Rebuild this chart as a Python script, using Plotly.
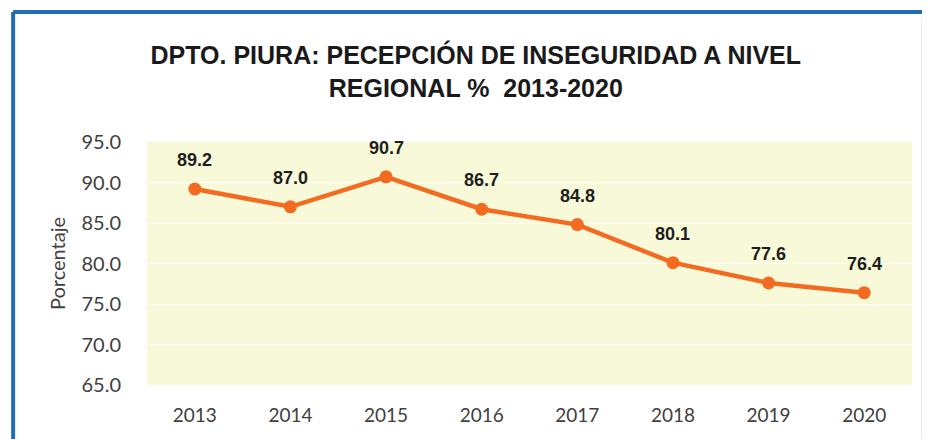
import plotly.graph_objects as go

# datos
years = [2013, 2014, 2015, 2016, 2017, 2018, 2019, 2020]
percepcion = [89.2, 87.0, 90.7, 86.7, 84.8, 80.1, 77.6, 76.4]
y_ticks = [65, 70, 75, 80, 85, 90, 95]

ORANGE = '#F26B21'
BLUE = '#1F6DB6'
NARROW = 'Liberation Sans Narrow, Liberation Sans, Arial'

fig = go.Figure()

fig.add_trace(go.Scatter(
    x=years,
    y=percepcion,
    mode='lines+markers',
    line=dict(color=ORANGE, width=4.5),
    marker=dict(color=ORANGE, size=13),
    showlegend=False,
    hoverinfo='x+y'
))

# etiquetas de datos
for yr, val in zip(years, percepcion):
    fig.add_annotation(
        x=yr, y=val,
        text='<b>%.1f</b>' % val,
        showarrow=False,
        yshift=29,
        font=dict(family=NARROW, size=18, color='#1e1e1e')
    )

# marco azul (borde izquierdo y superior)
fig.add_shape(type='line', xref='paper', yref='paper',
              x0=-0.175, x1=1.05, y0=1.535, y1=1.535,
              line=dict(color=BLUE, width=4))
fig.add_shape(type='line', xref='paper', yref='paper',
              x0=-0.175, x1=-0.175, y0=1.535, y1=-0.4,
              line=dict(color=BLUE, width=4))
fig.add_shape(type='line', xref='paper', yref='paper',
              x0=1.013, x1=1.013, y0=1.51, y1=-0.4,
              line=dict(color='#e4e8ee', width=1.5))

fig.update_layout(
    title=dict(
        text='<b>DPTO. PIURA: PECEPCIÓN DE INSEGURIDAD A NIVEL<br>REGIONAL %  2013-2020</b>',
        x=0.503, xanchor='center',
        y=0.872, yanchor='middle',
        font=dict(family=NARROW, size=25, color='#1a1a1a')
    ),
    width=930,
    height=439,
    margin=dict(l=139, r=26, t=134, b=62),
    paper_bgcolor='white',
    plot_bgcolor='#F8F9D8',
    font=dict(family='Lato, Open Sans, sans-serif', size=20, color='#404040'),
    xaxis=dict(
        tickvals=years,
        range=[2012.5, 2020.5],
        showgrid=False,
        showline=False,
        zeroline=False,
        ticks='',
        ticklabelstandoff=17,
        tickfont=dict(size=19, color='#404040'),
    ),
    yaxis=dict(
        range=[65, 95],
        tickvals=y_ticks,
        tickformat='.1f',
        showgrid=True,
        gridcolor='rgba(255,255,255,0.8)',
        gridwidth=1,
        zeroline=False,
        showline=False,
        ticks='',
        ticklabelstandoff=25,
        tickfont=dict(size=20, color='#404040'),
        title=dict(text='Porcentaje', standoff=10,
                   font=dict(size=20, color='#404040')),
    ),
)

fig.write_html('out.html')
